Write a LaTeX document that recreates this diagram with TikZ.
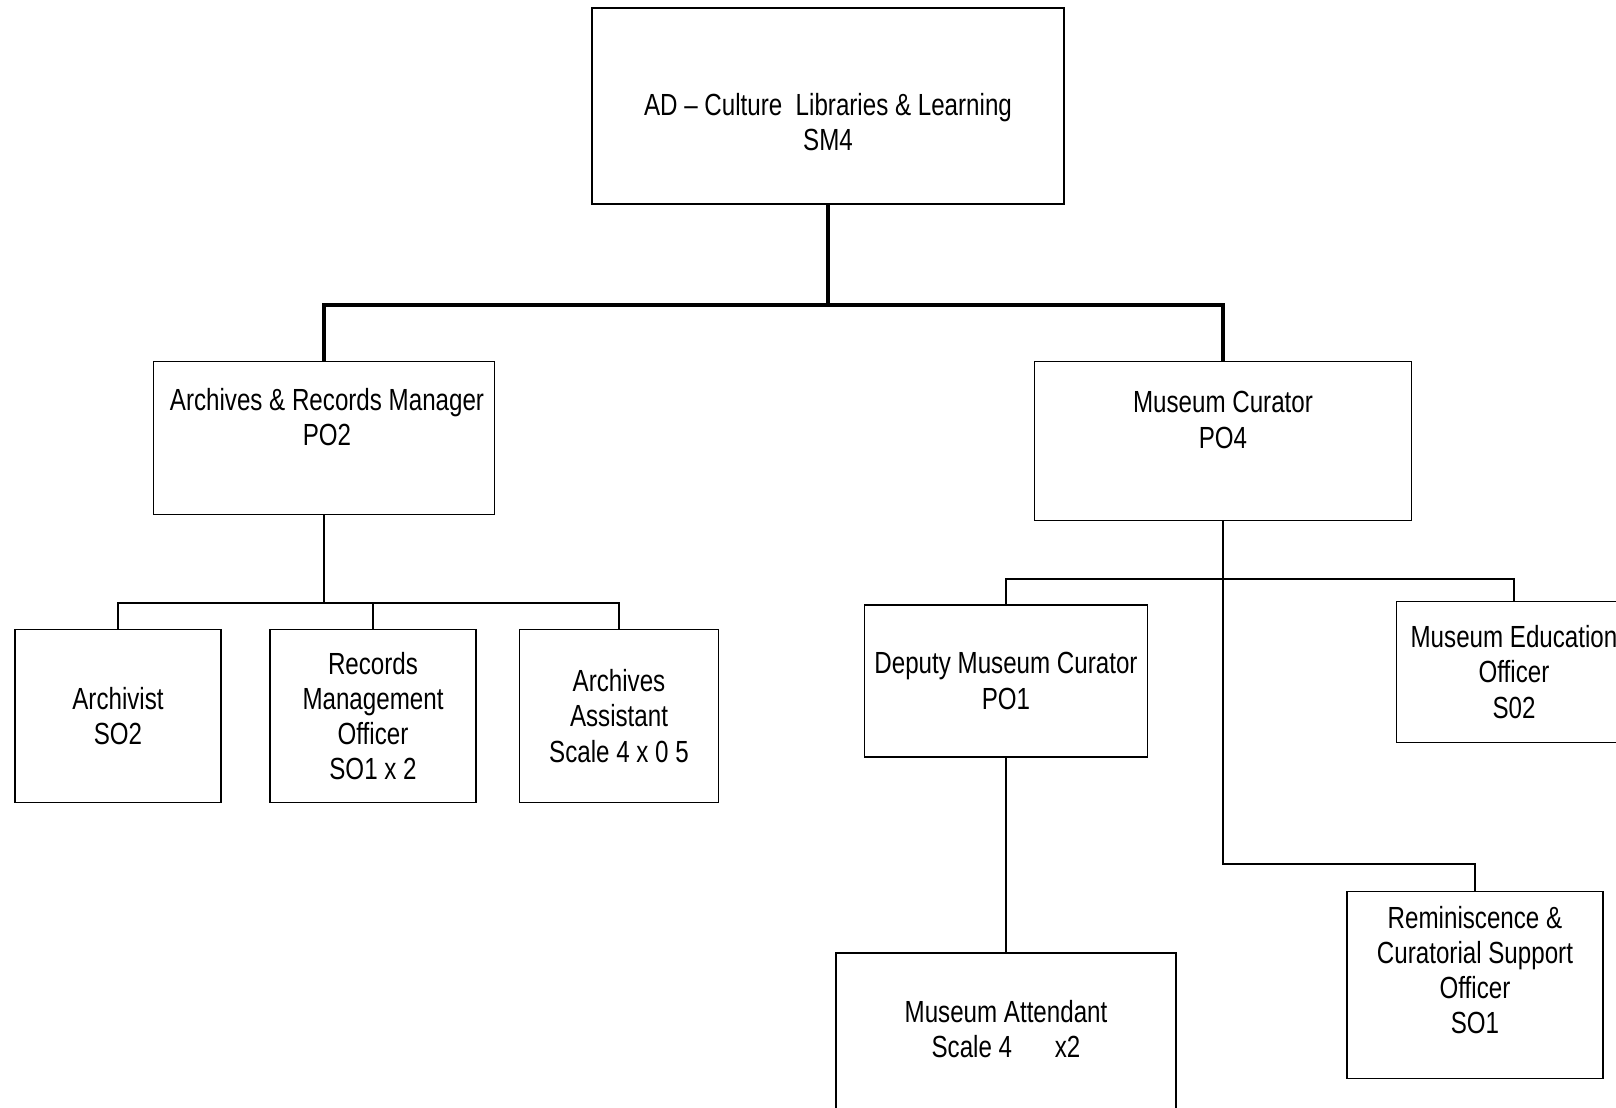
\documentclass[tikz,border=0pt]{standalone}
\usepackage{fontspec}
\setmainfont{Liberation Sans}[FakeStretch=0.79]

\begin{document}
\begin{tikzpicture}[
  post/.style={draw,rectangle,line width=0.5pt,inner sep=0pt,align=center,font=\fontsize{8.7pt}{10pt}\selectfont},
  txt/.style={inner sep=0pt,align=center,font=\fontsize{8.7pt}{10pt}\selectfont},
  link/.style={line width=0.5pt},
  mainlink/.style={line width=1.3pt}]
\clip (0,0) rectangle (16.16,-11.07);
\node[post,minimum width=4.72cm,minimum height=1.96cm] (ad) at (8.28,-1.06){};
\node[txt] (ad-t) at (8.28,-1.22){AD -- Culture\ \ Libraries \& Learning\\SM4};
\node[post,minimum width=3.41cm,minimum height=1.53cm] (arm) at (3.24,-4.38){};
\node[txt] (arm-t) at (3.27,-4.17){Archives \& Records Manager\\PO2};
\node[post,minimum width=3.77cm,minimum height=1.59cm] (mc) at (12.23,-4.41){};
\node[txt] (mc-t) at (12.23,-4.20){Museum Curator\\PO4};
\node[post,minimum width=2.06cm,minimum height=1.73cm] (arc) at (1.18,-7.16){Archivist\\SO2};
\node[post,minimum width=2.06cm,minimum height=1.73cm] (rmo) at (3.73,-7.16){Records\\Management\\Officer\\SO1 x 2};
\node[post,minimum width=1.99cm,minimum height=1.73cm] (aas) at (6.19,-7.16){Archives\\Assistant\\Scale 4 x 0 5};
\node[post,minimum width=2.83cm,minimum height=1.52cm] (dmc) at (10.06,-6.81){Deputy Museum Curator\\PO1};
\node[post,minimum width=2.35cm,minimum height=1.41cm] (meo) at (15.14,-6.72){Museum Education\\Officer\\S02};
\node[post,minimum width=3.40cm,minimum height=1.80cm] (mat) at (10.06,-10.43){};
\node[txt] (mat-t) at (10.06,-10.29){Museum Attendant\\Scale 4\hspace{1.4em}x2};
\node[post,minimum width=2.56cm,minimum height=1.87cm] (rso) at (14.75,-9.85){};
\node[txt] (rso-t) at (14.75,-9.70){Reminiscence \&\\Curatorial Support\\Officer\\SO1};
\coordinate (j0) at (8.28,-3.05);
\coordinate (j1) at (3.24,-6.03);
\coordinate (j2) at (12.23,-5.79);
\coordinate (j3) at (12.23,-8.64);
\draw[mainlink] (ad.south) -- (j0);
\draw[mainlink] (arm.north) |- (j0) -| (mc.north);
\draw[link] (arm.south) -- (j1);
\foreach \to in {arc,rmo,aas}
  \draw[link] (j1) -| (\to.north);
\draw[link] (mc.south) -- (j2) -- (j3) -| (rso.north);
\foreach \to in {dmc,meo}
  \draw[link] (j2) -| (\to.north);
\draw[link] (dmc.south) -- (mat.north);
\end{tikzpicture}
\end{document}
